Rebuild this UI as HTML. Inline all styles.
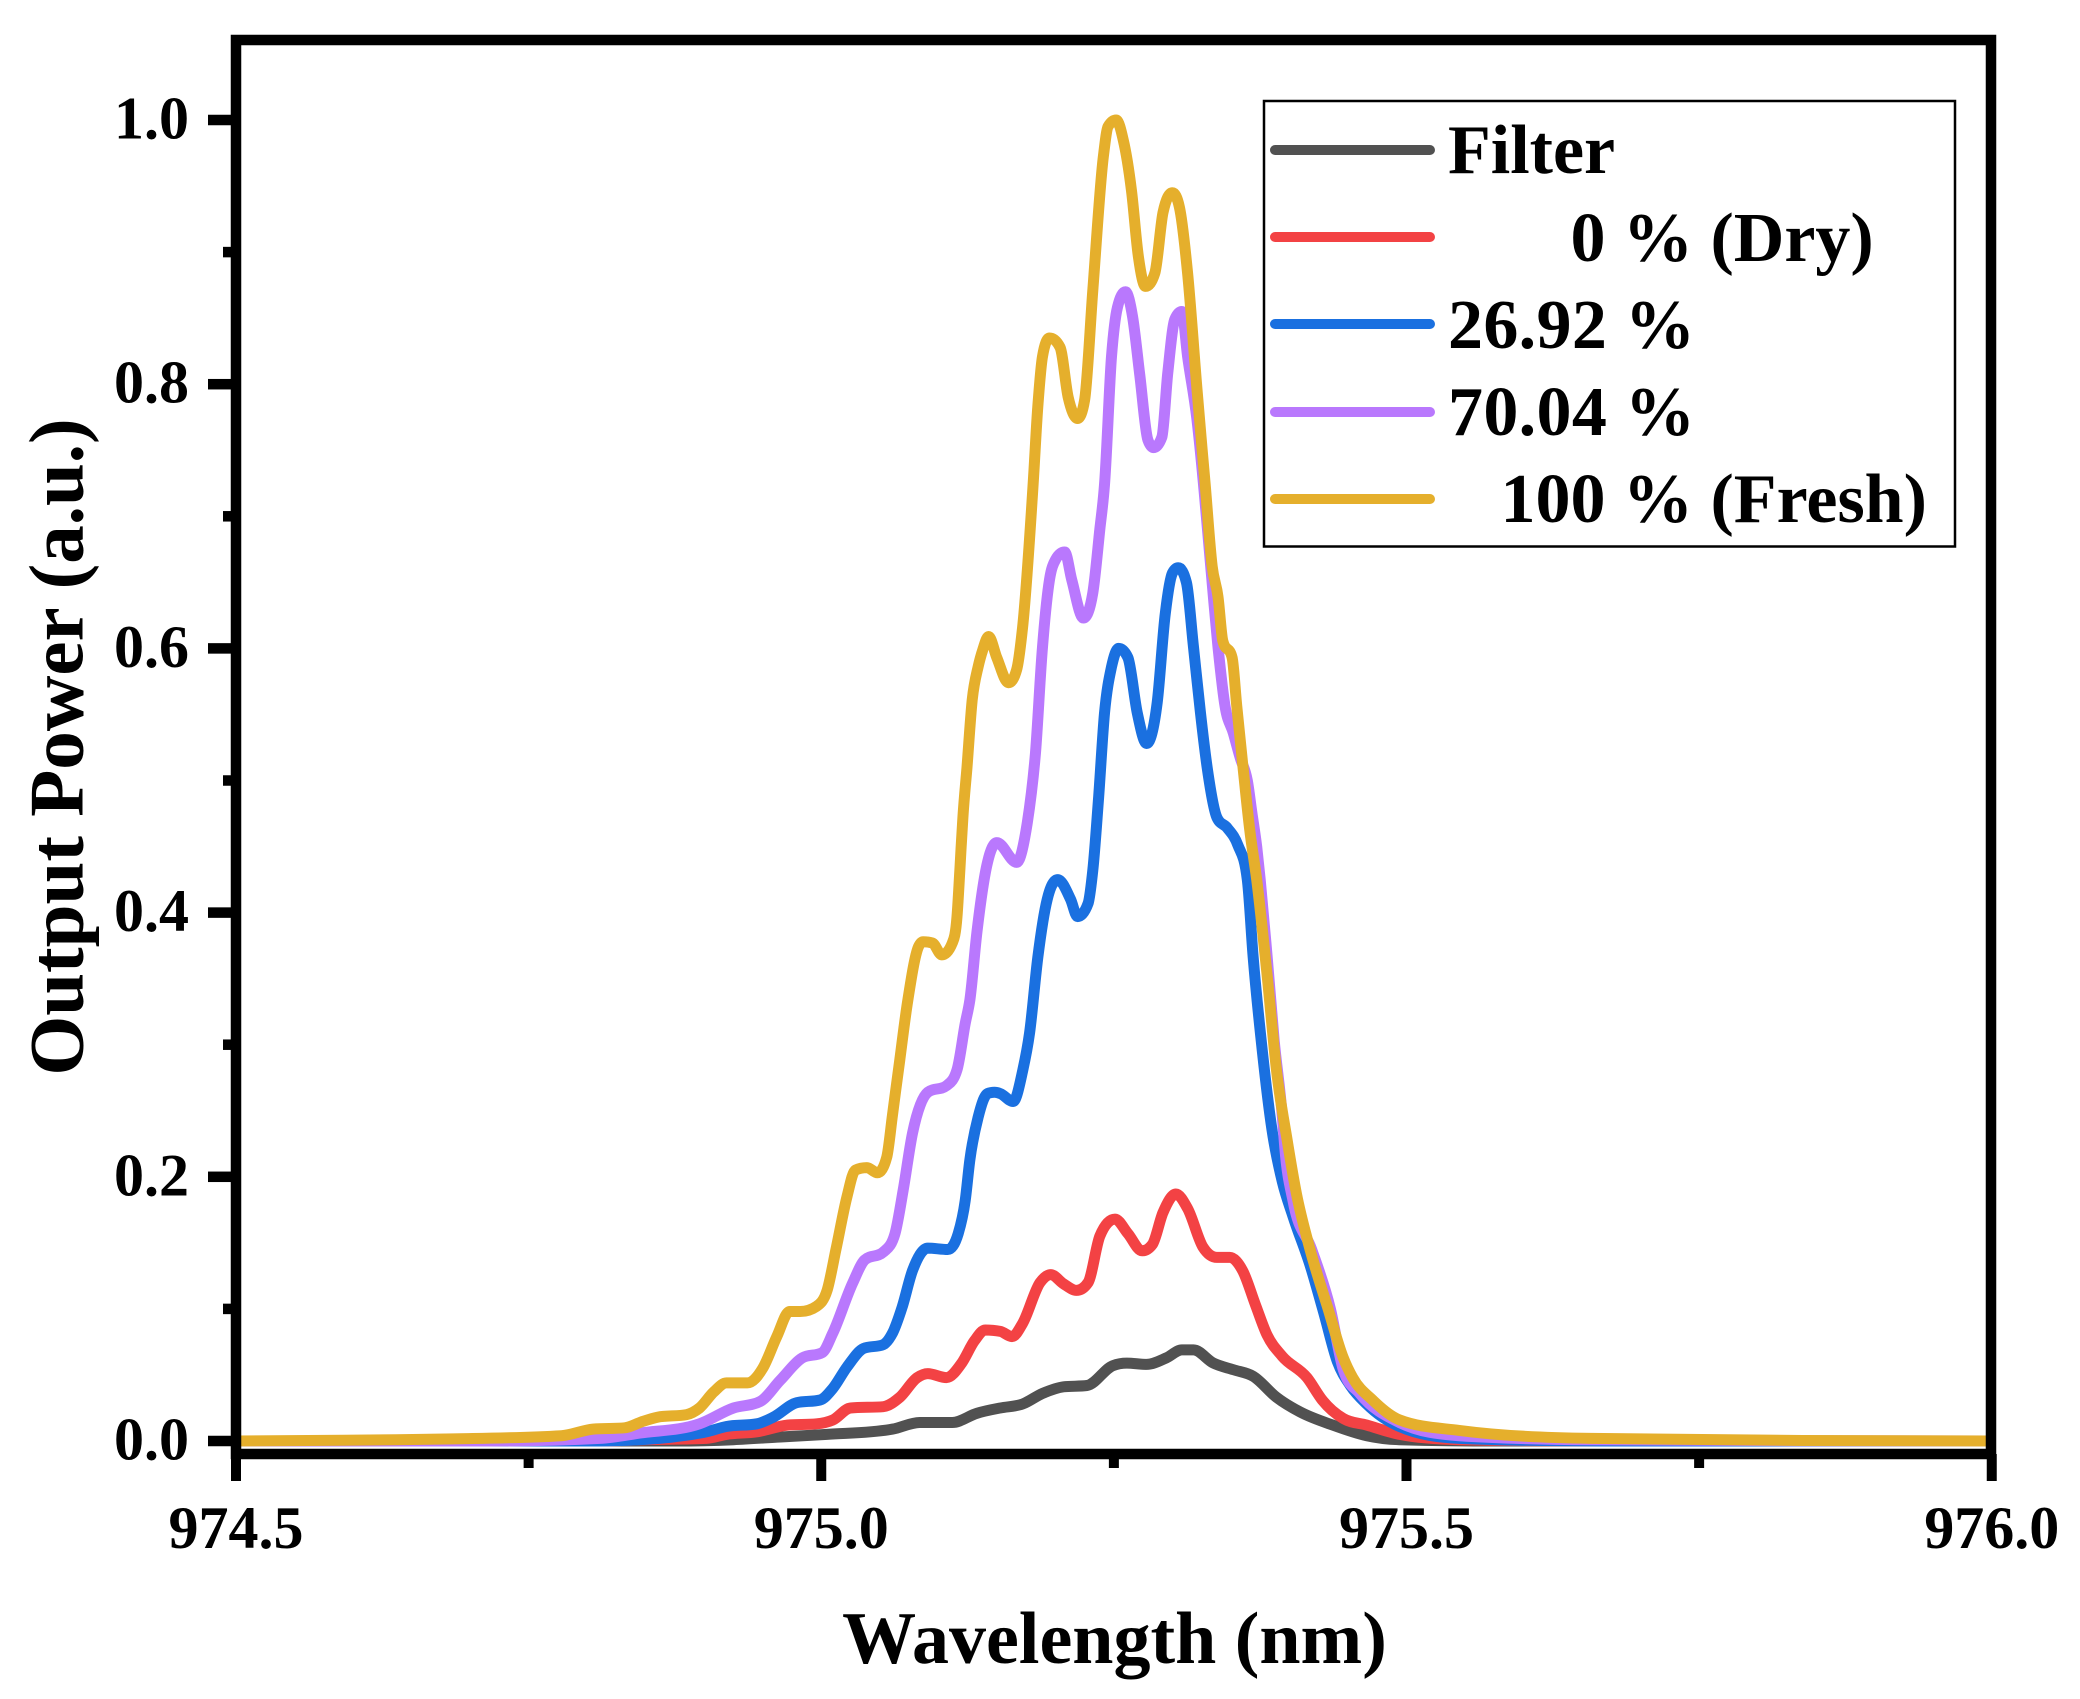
<!DOCTYPE html>
<html lang="en">
<head>
<meta charset="utf-8">
<title>Output Power vs Wavelength</title>
<style>
html,body{margin:0;padding:0;background:#fff;width:2080px;height:1699px;overflow:hidden}
svg{display:block}
text{font-family:"Liberation Serif","Times New Roman",serif;font-weight:bold;fill:#000}
</style>
</head>
<body>
<svg id="chart" xmlns="http://www.w3.org/2000/svg" width="2080" height="1699" viewBox="0 0 2080 1699">
  <rect x="0" y="0" width="2080" height="1699" fill="#fff"/>
  <g id="series" fill="none" stroke-width="11" stroke-linejoin="round" stroke-linecap="butt"></g>
  <g id="ticks"></g>
  <g id="tick-labels"></g>
  <path d="M236 40H1991V1454H236Z" fill="none" stroke="#000" stroke-width="10.5"/>
  <text x="1114.5" y="1663" font-size="74" text-anchor="middle">Wavelength (nm)</text>
  <text transform="translate(82.5 747) rotate(-90)" font-size="77" text-anchor="middle">Output Power (a.u.)</text>
  <g>
    <rect x="1264" y="101" width="691" height="445.5" fill="#fff" stroke="#000" stroke-width="2.5"/>
    <line x1="1275" y1="150" x2="1430" y2="150" stroke="#515151" stroke-width="10" stroke-linecap="round"/>
    <text x="1448" y="173" font-size="70">Filter</text>
    <line x1="1275" y1="237" x2="1430" y2="237" stroke="#f34244" stroke-width="10" stroke-linecap="round"/>
    <text x="1570.5" y="261" font-size="70">0 % (Dry)</text>
    <line x1="1275" y1="324" x2="1430" y2="324" stroke="#1a70e0" stroke-width="10" stroke-linecap="round"/>
    <text x="1448" y="348" font-size="70" textLength="247">26.92 %</text>
    <line x1="1275" y1="412" x2="1430" y2="412" stroke="#b978fd" stroke-width="10" stroke-linecap="round"/>
    <text x="1448" y="435" font-size="70" textLength="247">70.04 %</text>
    <line x1="1275" y1="499" x2="1430" y2="499" stroke="#e5af2c" stroke-width="10" stroke-linecap="round"/>
    <text x="1500.5" y="522" font-size="70">100 % (Fresh)</text>
  </g>
</svg>
<script>
const xTickValues = [974.5, 975.0, 975.5, 976.0];
const xMinorTickValues = [974.75, 975.25, 975.75];
const yTickValues = [0, 0.2, 0.4, 0.6, 0.8, 1.0];
const yMinorTickValues = [0.1, 0.3, 0.5, 0.7, 0.9];

const filterX = [974.5,974.877,974.925,974.965,975.005,975.061,975.084,975.112,975.133,975.153,975.172,975.189,975.207,975.227,975.249,975.261,975.278,975.295,975.308,975.318,975.335,975.352,975.369,975.389,975.409,975.437,975.466,975.494,975.58,976];
const filterY = [0,0,.001,.003,.005,.009,.014,.014,.021,.025,.028,.036,.041,.042,.057,.059,.058,.063,.069,.069,.059,.054,.049,.033,.022,.012,.004,.001,0,0];

const dryX = [974.5,974.811,974.848,974.902,974.919,974.945,974.971,974.996,975.01,975.025,975.053,975.067,975.082,975.091,975.107,975.12,975.131,975.14,975.153,975.163,975.172,975.187,975.196,975.207,975.218,975.228,975.238,975.251,975.262,975.274,975.283,975.292,975.303,975.313,975.326,975.338,975.349,975.36,975.371,975.381,975.394,975.415,975.428,975.446,975.466,975.494,975.545,975.665,976];
const dryY = [0,0,.001,.002,.005,.007,.012,.013,.016,.025,.026,.033,.048,.051,.048,.059,.076,.084,.083,.079,.089,.12,.126,.119,.114,.12,.155,.168,.157,.144,.149,.173,.187,.176,.147,.139,.139,.129,.103,.08,.064,.048,.031,.017,.012,.005,.001,0,0];

const rh26X = [974.5,974.811,974.845,974.873,974.902,974.919,974.945,974.959,974.979,974.999,975.01,975.022,975.036,975.053,975.061,975.069,975.078,975.091,975.108,975.117,975.123,975.127,975.134,975.142,975.148,975.153,975.164,975.172,975.178,975.185,975.193,975.202,975.213,975.219,975.228,975.232,975.237,975.242,975.248,975.254,975.262,975.27,975.278,975.287,975.294,975.3,975.305,975.312,975.318,975.324,975.33,975.338,975.347,975.356,975.364,975.369,975.377,975.385,975.394,975.403,975.418,975.429,975.441,975.452,975.466,975.494,975.545,975.665,976];
const rh26Y = [0,0,.001,.003,.007,.011,.013,.018,.029,.031,.04,.056,.07,.073,.082,.101,.129,.146,.145,.157,.182,.213,.245,.263,.264,.263,.257,.28,.309,.366,.41,.425,.41,.397,.407,.432,.488,.551,.586,.6,.593,.551,.528,.559,.627,.657,.661,.65,.601,.551,.508,.472,.464,.451,.425,.366,.294,.236,.196,.17,.132,.098,.06,.042,.028,.011,.002,0,0];

const rh70X = [974.5,974.717,974.811,974.845,974.896,974.925,974.948,974.965,974.984,975.001,975.01,975.027,975.037,975.053,975.063,975.07,975.078,975.091,975.107,975.116,975.123,975.127,975.133,975.142,975.15,975.167,975.176,975.183,975.189,975.195,975.2,975.208,975.214,975.224,975.232,975.238,975.242,975.248,975.253,975.26,975.266,975.272,975.279,975.284,975.291,975.296,975.302,975.308,975.313,975.321,975.327,975.33,975.335,975.339,975.345,975.352,975.358,975.364,975.368,975.372,975.375,975.381,975.387,975.394,975.396,975.403,975.419,975.435,975.446,975.46,975.494,975.545,975.658,976];
const rh70Y = [0,0,.002,.006,.013,.025,.03,.046,.063,.067,.082,.12,.137,.143,.157,.19,.233,.264,.269,.281,.316,.334,.385,.438,.453,.438,.468,.521,.601,.652,.667,.673,.652,.623,.642,.69,.724,.821,.858,.87,.851,.808,.758,.752,.76,.808,.849,.855,.821,.773,.72,.69,.639,.601,.556,.536,.517,.5,.475,.45,.425,.366,.303,.245,.222,.182,.145,.1,.054,.036,.014,.004,.001,0];

const freshX = [974.5,974.592,974.679,974.778,974.805,974.832,974.848,974.86,974.885,974.896,974.908,974.919,974.937,974.95,974.962,974.973,974.982,974.996,975.005,975.013,975.022,975.029,975.039,975.048,975.056,975.061,975.067,975.074,975.083,975.087,975.095,975.103,975.112,975.116,975.1185,975.121,975.1245,975.129,975.134,975.138,975.143,975.15,975.16,975.167,975.172,975.181,975.185,975.189,975.195,975.204,975.211,975.219,975.225,975.232,975.241,975.245,975.252,975.258,975.265,975.271,975.277,975.285,975.292,975.3,975.306,975.313,975.321,975.328,975.334,975.339,975.343,975.351,975.355,975.36,975.366,975.372,975.381,975.389,975.398,975.406,975.417,975.433,975.446,975.454,975.471,975.494,975.545,975.658,976];
const freshY = [0,.0005,.0015,.004,.009,.01,.015,.018,.02,.025,.037,.044,.044,.055,.079,.098,.098,.102,.114,.147,.185,.205,.207,.203,.215,.248,.288,.334,.374,.378,.377,.368,.377,.397,.434,.472,.51,.561,.586,.599,.609,.593,.574,.584,.616,.724,.783,.821,.835,.828,.79,.774,.788,.871,.972,.995,1,.985,.947,.896,.874,.884,.93,.945,.934,.884,.796,.724,.662,.639,.606,.593,.556,.513,.463,.425,.352,.28,.228,.187,.147,.1,.063,.048,.031,.016,.008,.002,0];

const seriesColors = ['#515151', '#f34244', '#1a70e0', '#b978fd', '#e5af2c'];
const seriesNames = ['filter', 'dry-0', 'rh-26-92', 'rh-70-04', 'fresh-100'];
const seriesX = [filterX, dryX, rh26X, rh70X, freshX];
const seriesY = [filterY, dryY, rh26Y, rh70Y, freshY];

const NS = 'http://www.w3.org/2000/svg';
function xScale(w) { return 236 + (w - 974.5) * 1170.5; }
function yScale(v) { return 1441 - v * 1321; }

function smoothPath(xs, ys) {
  const px = xs.map(xScale);
  const py = ys.map(yScale);
  const n = px.length;
  const m = new Array(n).fill(0);
  for (let i = 1; i < n - 1; i++) {
    const h0 = px[i] - px[i - 1], h1 = px[i + 1] - px[i];
    const s0 = (py[i] - py[i - 1]) / h0, s1 = (py[i + 1] - py[i]) / h1;
    const p = (s0 * h1 + s1 * h0) / (h0 + h1);
    if (s0 * s1 <= 0) { m[i] = 0; continue; }
    const lim = 2.2 * Math.min(Math.abs(s0), Math.abs(s1));
    m[i] = Math.sign(p) * Math.min(Math.abs(p), lim);
  }
  let d = 'M' + px[0].toFixed(1) + ' ' + py[0].toFixed(1);
  for (let i = 0; i < n - 1; i++) {
    const h = (px[i + 1] - px[i]) / 3;
    d += 'C' + (px[i] + h).toFixed(1) + ' ' + (py[i] + m[i] * h).toFixed(1) + ' ' +
      (px[i + 1] - h).toFixed(1) + ' ' + (py[i + 1] - m[i + 1] * h).toFixed(1) + ' ' +
      px[i + 1].toFixed(1) + ' ' + py[i + 1].toFixed(1);
  }
  return d;
}

const seriesGroup = document.getElementById('series');
seriesX.forEach((xs, i) => {
  const path = document.createElementNS(NS, 'path');
  path.setAttribute('d', smoothPath(xs, seriesY[i]));
  path.setAttribute('stroke', seriesColors[i]);
  
  
  seriesGroup.appendChild(path);
});

const tickGroup = document.getElementById('ticks');
const labelGroup = document.getElementById('tick-labels');

function addRect(x, y, w, h, name) {
  const r = document.createElementNS(NS, 'rect');
  r.setAttribute('x', x);
  r.setAttribute('y', y);
  r.setAttribute('width', w);
  r.setAttribute('height', h);
  r.setAttribute('fill', '#000');
  
  
  tickGroup.appendChild(r);
}

function addLabel(x, y, anchor, str, name) {
  const t = document.createElementNS(NS, 'text');
  t.setAttribute('x', x);
  t.setAttribute('y', y);
  t.setAttribute('font-size', '60');
  t.setAttribute('text-anchor', anchor);
  
  
  t.textContent = str;
  labelGroup.appendChild(t);
}

xTickValues.forEach(v => {
  addRect(xScale(v) - 5, 1454, 10, 27, 'x-major-tick');
  addLabel(xScale(v), 1548, 'middle', v.toFixed(1), 'x-tick-label');
});
xMinorTickValues.forEach(v => addRect(xScale(v) - 5, 1454, 10, 14, 'x-minor-tick'));
yTickValues.forEach(v => {
  addRect(208, yScale(v) - 5.25, 28, 10.5, 'y-major-tick');
  addLabel(189, yScale(v) + 18.5, 'end', v.toFixed(1), 'y-tick-label');
});
yMinorTickValues.forEach(v => addRect(223, yScale(v) - 5.25, 13, 10.5, 'y-minor-tick'));
</script>
</body>
</html>
